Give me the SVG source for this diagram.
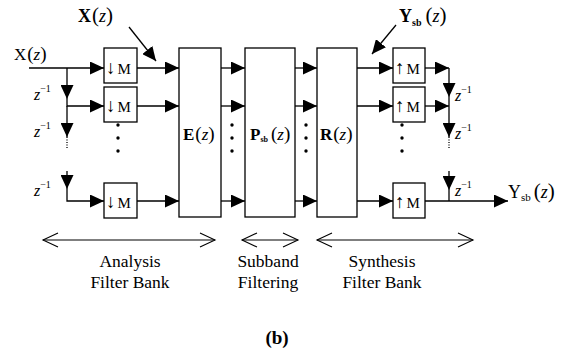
<svg xmlns="http://www.w3.org/2000/svg" width="570" height="355" viewBox="0 0 570 355">
<style>
.ln{stroke:#000;stroke-width:1.3;fill:none}
.ar{stroke:#000;stroke-width:1.3;fill:none;marker-end:url(#ah)}
.bx{stroke:#000;stroke-width:1.3;fill:#fff}
.dt{stroke:#000;stroke-width:1.3;fill:none;stroke-dasharray:1 1.5}
.br{stroke:#000;stroke-width:1.1;fill:none;marker-start:url(#oh);marker-end:url(#oh)}
text{font-family:"Liberation Serif","DejaVu Serif",serif;fill:#000}
.lbl{font-size:17.5px;text-anchor:middle}
.bt{font-size:15px}
.sa{font-size:19px}
.zi{font-style:italic}
</style>
<defs>
<marker id="ah" markerUnits="userSpaceOnUse" markerWidth="14" markerHeight="13" refX="14" refY="6.5" orient="auto" viewBox="0 0 14 13">
<path d="M0,0 L14,6.5 L0,13 Z" fill="#000"/>
</marker>
<marker id="oh" markerUnits="userSpaceOnUse" markerWidth="18" markerHeight="18" refX="16" refY="9" orient="auto-start-reverse" viewBox="0 0 18 18">
<path d="M1,2 L16,9 L1,16" fill="none" stroke="#000" stroke-width="1.1"/>
</marker>
<g id="dots3">
<circle cx="0" cy="125" r="1.7"/><circle cx="0" cy="138" r="1.7"/><circle cx="0" cy="151" r="1.7"/>
</g>
</defs>
<rect width="570" height="355" fill="#fff"/>

<g id="connectors">
<line class="ar" x1="29" y1="68" x2="104" y2="68"/>
<line class="ar" x1="67" y1="68" x2="67" y2="99"/>
<path class="ar" d="M67,99 V106 H104"/>
<line class="ar" x1="67" y1="106" x2="67" y2="137"/>
<line class="dt" x1="67" y1="137" x2="67" y2="148"/>
<line class="ar" x1="67" y1="171" x2="67" y2="189"/>
<path class="ar" d="M67,189 V201 H104"/>
<line class="ar" x1="137" y1="68" x2="179" y2="68"/>
<line class="ar" x1="137" y1="106" x2="179" y2="106"/>
<line class="ar" x1="137" y1="201" x2="179" y2="201"/>
<line class="ar" x1="221" y1="68" x2="245" y2="68"/>
<line class="ar" x1="221" y1="106" x2="245" y2="106"/>
<line class="ar" x1="221" y1="201" x2="245" y2="201"/>
<line class="ar" x1="295" y1="68" x2="317" y2="68"/>
<line class="ar" x1="295" y1="106" x2="317" y2="106"/>
<line class="ar" x1="295" y1="201" x2="317" y2="201"/>
<line class="ar" x1="357" y1="68" x2="393" y2="68"/>
<line class="ar" x1="357" y1="106" x2="393" y2="106"/>
<line class="ar" x1="357" y1="201" x2="393" y2="201"/>
<line class="ar" x1="425" y1="68" x2="449" y2="68"/>
<line class="ar" x1="449" y1="68" x2="449" y2="97"/>
<line class="ln" x1="449" y1="97" x2="449" y2="106"/>
<line class="ar" x1="425" y1="106" x2="449" y2="106"/>
<line class="ar" x1="449" y1="106" x2="449" y2="137"/>
<line class="dt" x1="449" y1="137" x2="449" y2="148"/>
<line class="ar" x1="449" y1="171" x2="449" y2="190"/>
<line class="ln" x1="449" y1="190" x2="449" y2="201"/>
<line class="ar" x1="425" y1="201" x2="508" y2="201"/>
<line class="ar" x1="129" y1="27" x2="156" y2="61"/>
<line class="ar" x1="396" y1="25" x2="372" y2="54"/>
<line class="br" x1="43" y1="240" x2="215" y2="240"/>
<line class="br" x1="242" y1="240" x2="298" y2="240"/>
<line class="br" x1="317" y1="240" x2="473" y2="240"/>
<use href="#dots3" x="118"/>
<use href="#dots3" x="232"/>
<use href="#dots3" x="306"/>
<use href="#dots3" x="402"/>
</g>

<g id="down1"><rect class="bx" x="104" y="48" width="33" height="35"/><text class="bt" x="106" y="74"><tspan class="sa">↓</tspan><tspan dx="2">M</tspan></text></g>
<g id="down2"><rect class="bx" x="104" y="87" width="33" height="35"/><text class="bt" x="106" y="112"><tspan class="sa">↓</tspan><tspan dx="2">M</tspan></text></g>
<g id="down3"><rect class="bx" x="104" y="183" width="33" height="35"/><text class="bt" x="106" y="208"><tspan class="sa">↓</tspan><tspan dx="2">M</tspan></text></g>

<g id="E"><rect class="bx" x="179" y="48" width="42" height="169"/>
<text x="183" y="140" font-size="17"><tspan font-weight="bold">E</tspan><tspan dx="1" font-size="19">(</tspan><tspan class="zi">z</tspan><tspan font-size="19">)</tspan></text></g>
<g id="P"><rect class="bx" x="245" y="48" width="50" height="169"/>
<text x="250" y="140" font-size="17"><tspan font-weight="bold">P</tspan><tspan font-weight="bold" font-size="8" dy="2">sb</tspan><tspan dx="3" dy="-2" font-size="19">(</tspan><tspan class="zi">z</tspan><tspan font-size="19">)</tspan></text></g>
<g id="R"><rect class="bx" x="317" y="48" width="40" height="169"/>
<text x="320" y="140" font-size="17"><tspan font-weight="bold">R</tspan><tspan dx="1" font-size="19">(</tspan><tspan class="zi">z</tspan><tspan font-size="19">)</tspan></text></g>

<g id="up1"><rect class="bx" x="393" y="48" width="32" height="35"/><text class="bt" x="395" y="74"><tspan class="sa">↑</tspan><tspan dx="2">M</tspan></text></g>
<g id="up2"><rect class="bx" x="393" y="87" width="32" height="35"/><text class="bt" x="395" y="112"><tspan class="sa">↑</tspan><tspan dx="2">M</tspan></text></g>
<g id="up3"><rect class="bx" x="393" y="183" width="32" height="35"/><text class="bt" x="395" y="208"><tspan class="sa">↑</tspan><tspan dx="2">M</tspan></text></g>

<g id="labels">
<text x="78" y="22" font-size="18"><tspan font-weight="bold">X</tspan><tspan dx="1" font-size="21">(</tspan><tspan class="zi">z</tspan><tspan font-size="21">)</tspan></text>
<text x="14" y="60" font-size="17">X<tspan dx="1" font-size="19">(</tspan><tspan class="zi">z</tspan><tspan font-size="19">)</tspan></text>
<text x="399" y="22" font-size="18"><tspan font-weight="bold">Y</tspan><tspan font-weight="bold" font-size="10" dy="4">sb</tspan><tspan dx="4" dy="-4" font-size="21">(</tspan><tspan class="zi">z</tspan><tspan font-size="21">)</tspan></text>
<text x="508" y="198" font-size="18">Y<tspan font-size="11" dy="3">sb</tspan><tspan dx="3" dy="-3" font-size="21">(</tspan><tspan class="zi">z</tspan><tspan font-size="21">)</tspan></text>
<text x="34" y="100" font-size="16"><tspan class="zi">z</tspan><tspan font-size="10" dy="-8">−1</tspan></text>
<text x="34" y="137" font-size="16"><tspan class="zi">z</tspan><tspan font-size="10" dy="-8">−1</tspan></text>
<text x="34" y="196" font-size="16"><tspan class="zi">z</tspan><tspan font-size="10" dy="-8">−1</tspan></text>
<text x="455" y="101" font-size="16"><tspan class="zi">z</tspan><tspan font-size="10" dy="-8">−1</tspan></text>
<text x="455" y="139" font-size="16"><tspan class="zi">z</tspan><tspan font-size="10" dy="-8">−1</tspan></text>
<text x="455" y="196" font-size="16"><tspan class="zi">z</tspan><tspan font-size="10" dy="-8">−1</tspan></text>
<text class="lbl" x="130" y="267">Analysis</text>
<text class="lbl" x="130" y="288">Filter Bank</text>
<text class="lbl" x="268" y="267">Subband</text>
<text class="lbl" x="268" y="288">Filtering</text>
<text class="lbl" x="382" y="267">Synthesis</text>
<text class="lbl" x="382" y="288">Filter Bank</text>
<text x="277" y="344" font-size="19" font-weight="bold" text-anchor="middle">(b)</text>
</g>
</svg>
